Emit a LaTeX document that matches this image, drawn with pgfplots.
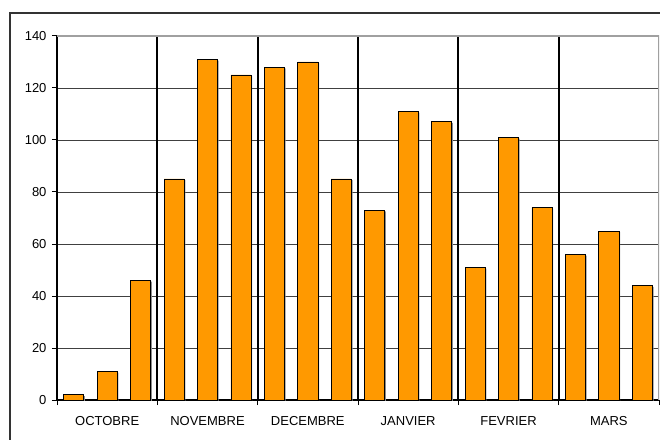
\documentclass[border=0pt]{standalone}
\usepackage{fontspec}
\setmainfont{Liberation Sans}
\usepackage{pgfplots}
\pgfplotsset{compat=1.18}
\definecolor{barorange}{HTML}{FF9900}
\definecolor{gridgray}{HTML}{404040}
\definecolor{bordergray}{HTML}{A0A0A0}
\definecolor{shadowgray}{HTML}{8C8C8C}

\pgfplotstableread{
x  y
0  2
1  11
2  46
3  85
4  131
5  125
6  128
7  130
8  85
9  73
10 111
11 107
12 51
13 101
14 74
15 56
16 65
17 44
}\monthdata

\begin{document}
\begin{tikzpicture}
\useasboundingbox (0pt,0pt) rectangle (660pt,439pt);
% outer chart frame
\draw[line width=1.3pt, black!80] (10pt,-20pt) -- (10pt,426pt) -- (700pt,426pt);
\begin{axis}[
  at={(57pt,39pt)}, anchor=south west,
  scale only axis, width=602pt, height=364pt,
  xmin=-0.5, xmax=17.5, ymin=0, ymax=140,
  axis x line*=bottom, axis y line*=left,
  axis line style={-, line width=1.6pt, black},
  ybar, bar width=0.6, bar shift=0pt,
  ytick={0,20,...,140},
  ymajorgrids, y grid style={gridgray, line width=0.7pt},
  xtick={1,4,7,10,13,16},
  xticklabels={OCTOBRE,NOVEMBRE,DECEMBRE,JANVIER,FEVRIER,MARS},
  minor xtick={-0.5,2.5,5.5,8.5,11.5,14.5,17.5},
  extra x ticks={2.5,5.5,8.5,11.5,14.5},
  extra x tick labels={},
  extra x tick style={xmajorgrids, major tick length=0pt,
    x grid style={black, line width=2pt}},
  tick align=outside,
  major tick length=5pt, minor tick length=5pt,
  every tick/.style={black, line width=1pt},
  major x tick style={draw=none},
  /pgf/number format/assume math mode=true,
  ticklabel style={font=\fontsize{13}{15}\selectfont, black},
  yticklabel style={xshift=-2pt},
  xticklabel style={yshift=-8pt},
]
% soft drop shadow behind the bars
\addplot[fill=shadowgray, draw=none, xshift=1.2pt, yshift=-1.2pt, forget plot]
  table[x=x, y=y] {\monthdata};
\addplot[fill=barorange, draw=black, line width=0.7pt]
  table[x=x, y=y] {\monthdata};
% plot-area border on top and right
\draw[bordergray, line width=1.2pt] (rel axis cs:0,1) -- (rel axis cs:1,1) -- (rel axis cs:1,0);
\end{axis}
\end{tikzpicture}
\end{document}
